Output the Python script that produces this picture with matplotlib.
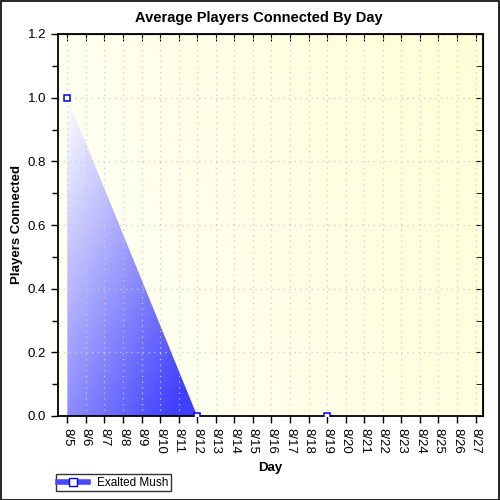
import numpy as np
import matplotlib.pyplot as plt
from matplotlib.lines import Line2D
from matplotlib.patches import Polygon

plt.rcParams['font.family'] = ['Liberation Sans', 'DejaVu Sans']

days = ["8/%d" % d for d in range(5, 28)]
point_days = ["8/5", "8/12", "8/19"]
players = [1.0, 0.0, 0.0]
series_name = "Exalted Mush"

x_pos = np.arange(len(days))
px = [days.index(d) for d in point_days]

fig = plt.figure(figsize=(5, 5), dpi=100)
fig.patch.set_facecolor("white")
ax = fig.add_axes([0.116, 0.168, 0.85, 0.764])

xmin, xmax = -0.5, 22.4
ymin, ymax = 0.0, 1.2
ax.set_xlim(xmin, xmax)
ax.set_ylim(ymin, ymax)

# background gradient: white-ish at top-left to pale yellow at right
gx, gy = np.meshgrid(np.linspace(0, 1, 200), np.linspace(0, 1, 200))
t = np.clip(0.75 * gx + 0.25 * (1 - gy), 0, 1)
c0 = np.array([1.0, 1.0, 0.97])
c1 = np.array([1.0, 1.0, 0.84])
bg = c0[None, None, :] * (1 - t[..., None]) + c1[None, None, :] * t[..., None]
ax.imshow(bg, extent=[xmin, xmax, ymin, ymax], aspect="auto", origin="upper", zorder=0)

# gradient area under the series
poly_pts = [(px[0], 0)] + list(zip(px, players)) + [(px[-1], 0)]
clip = Polygon(poly_pts, closed=True, facecolor="none", edgecolor="none")
ax.add_patch(clip)
fx, fy = np.meshgrid(np.linspace(0, 1, 200), np.linspace(0, 1, 200))
s = np.clip(0.5 * fx + 0.6 * fy, 0, 1)
w = np.array([1.0, 1.0, 1.0])
b = np.array([0.25, 0.25, 1.0])
fg = w[None, None, :] * (1 - s[..., None]) + b[None, None, :] * s[..., None]
im = ax.imshow(fg, extent=[0, 7, 0, 1.0], aspect="auto", origin="upper", zorder=1)
im.set_clip_path(clip)

ax.plot(px, players, linestyle="none", marker="s", markersize=5,
        markerfacecolor="white", markeredgecolor="blue", markeredgewidth=1.1,
        zorder=3, clip_on=True)

ax.set_xticks(x_pos)
ax.set_xticklabels(days, rotation=-90, fontsize=9.5)
ax.set_yticks(np.arange(0, 1.21, 0.2))
ax.set_yticklabels(["%.1f" % v for v in np.arange(0, 1.21, 0.2)], fontsize=9.5)
ax.set_yticks(np.arange(0.1, 1.2, 0.2), minor=True)
ax.tick_params(axis="both", which="both", direction="out", length=5, width=1,
               top=False, right=False)
ax.tick_params(axis="y", which="minor", length=4)

ax.grid(True, which="major", color="#cccccc", linestyle=(0, (1, 3.5)), linewidth=0.9)
for gl in ax.get_xgridlines() + ax.get_ygridlines():
    gl.set_zorder(0.5)

# inner ticks on top and right
sec_t = ax.secondary_xaxis("top")
sec_t.set_xticks(x_pos)
sec_t.tick_params(direction="in", length=5, labeltop=False)
sec_r = ax.secondary_yaxis("right")
sec_r.set_yticks(np.arange(0, 1.21, 0.2))
sec_r.set_yticks(np.arange(0.1, 1.2, 0.2), minor=True)
sec_r.tick_params(which="both", direction="in", length=5, labelright=False)

for sp in ax.spines.values():
    sp.set_linewidth(1.3)

fig.text(0.517, 0.964, "Average Players Connected By Day", fontsize=10.5,
         fontweight="bold", ha="center", va="center")
ax.set_xlabel("Day", fontsize=9.5, fontweight="bold", labelpad=6)
ax.set_ylabel("Players Connected", fontsize=9.5, fontweight="bold")
ax.yaxis.set_label_coords(-0.082, 0.5)

handle = Line2D([0], [0], color="#4848ff", linewidth=4, marker="s", markersize=6,
                markerfacecolor="white", markeredgecolor="blue")
fig.legend([handle], [series_name], loc="lower left", bbox_to_anchor=(0.112, 0.018),
           fontsize=8.5, frameon=True, fancybox=False, edgecolor="black",
           borderpad=0.2, handlelength=2.5, borderaxespad=0)

border = plt.Rectangle((0.001, 0.001), 0.997, 0.997, transform=fig.transFigure,
                       fill=False, edgecolor="black", linewidth=1.2)
fig.patches.append(border)

fig.savefig("out.png", dpi=100)
